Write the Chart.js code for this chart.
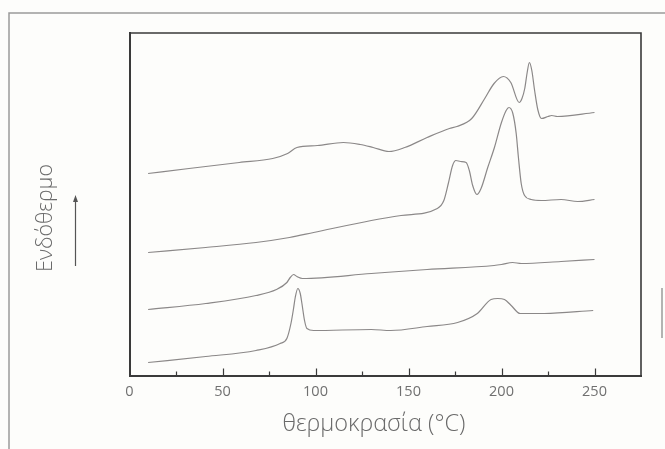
<!DOCTYPE html>
<html>
<head>
<meta charset="utf-8">
<script src="https://cdn.jsdelivr.net/npm/chart.js@4.4.0/dist/chart.umd.min.js"></script>
<style>
  html, body { margin: 0; padding: 0; background: #fdfdfb; }
  #wrap { position: relative; width: 665px; height: 449px; }
  canvas { display: block; }
</style>
</head>
<body>
<div id="wrap"><canvas id="c" width="665" height="449"></canvas></div>
<script>
// ---- Data (y in arbitrary heat-flow units) ----
const xTitle = "θερμοκρασία (°C)";
const yTitle = "Ενδόθερμο";
const xTickValues = [0, 50, 100, 150, 200, 250];

// Curve 1 (top)
const t1 = [10, 32, 59, 77, 85, 90, 101, 115, 124, 131, 139.5, 148, 160, 172, 176, 184, 191, 196, 201, 205, 209.5, 211, 212.5, 213.8, 215, 216.3, 217.8, 219.5, 221.5, 225, 227, 230, 250];
const v1 = [202, 207, 213, 217, 222, 228, 230, 233, 231, 228, 224, 228, 238, 247, 249, 257, 277, 292, 299, 293, 273, 277, 287, 303, 313, 305, 285, 266, 257, 259, 260, 259, 263];

// Curve 2
const t2 = [10, 41, 68, 86, 99, 130, 146, 165.5, 169, 171.4, 173.7, 175.5, 178, 181, 182.7, 184.5, 186.8, 189, 192.6, 196.2, 199.8, 202.5, 204, 206.1, 207.9, 209.1, 210.6, 212.4, 216, 221.4, 232, 241, 250];
const v2 = [123, 128, 133, 138, 143, 155, 160, 167, 175, 192, 210, 215, 214, 213, 205, 190, 181, 187, 208, 228, 252, 265, 268, 262, 242, 218, 192, 180, 176, 175, 176, 174, 176];

// Curve 3
const t3 = [10, 41, 68, 79, 84.6, 86.4, 88.2, 90, 93, 130, 160, 196, 200, 206, 210.6, 232, 250];
const v3 = [66, 72, 80, 86, 93, 98, 101, 99, 97, 102, 106, 110, 111, 113, 112, 114, 116];

// Curve 4 (bottom)
const t4 = [10, 41, 68, 81, 84.6, 86.8, 88.2, 89.1, 90.5, 91.8, 92.7, 94.1, 95.4, 99, 130, 140.4, 160, 176.4, 187, 194.4, 198, 201.6, 205.2, 210, 223, 249.3];
const v4 = [13, 19, 25, 32, 37, 52, 67, 78, 87, 82, 72, 55, 47, 45, 46, 45, 49, 53, 62, 76, 77, 76, 70, 62, 62, 65];

const toPoints = (t, v) => t.map((x, i) => ({ x: x, y: v[i] }));

const lineColor = '#8b8888';
const axisColor = '#3a3a3a';
const textColor = '#6a6a6a';

const mkSet = (label, t, v) => ({
  label: label,
  data: toPoints(t, v),
  borderColor: lineColor,
  borderWidth: 1.2,
  pointRadius: 0,
  fill: false,
  cubicInterpolationMode: 'monotone'
});

const decor = {
  id: 'decor',
  beforeDraw(chart) {
    const ctx = chart.ctx;
    ctx.save();
    ctx.fillStyle = '#fdfdfb';
    ctx.fillRect(0, 0, chart.width, chart.height);
    ctx.strokeStyle = '#9a9a9a';
    ctx.lineWidth = 1.5;
    ctx.beginPath();
    ctx.moveTo(9, 449);
    ctx.lineTo(9, 13);
    ctx.lineTo(665, 13);
    ctx.stroke();
    ctx.beginPath();
    ctx.moveTo(662, 288);
    ctx.lineTo(662, 338);
    ctx.stroke();
    ctx.restore();
  },
  afterDraw(chart) {
    const ctx = chart.ctx;
    const a = chart.chartArea;
    const xs = chart.scales.x;
    ctx.save();
    ctx.strokeStyle = axisColor;
    ctx.lineWidth = 1.6;
    ctx.beginPath();
    ctx.moveTo(a.left, a.top);
    ctx.lineTo(a.right, a.top);
    ctx.lineTo(a.right, a.bottom);
    ctx.stroke();
    ctx.lineWidth = 1.2;
    for (let v = 25; v < xs.max; v += 25) {
      const px = Math.round(xs.getPixelForValue(v)) + 0.5;
      const len = (v % 50 === 0) ? 7 : 4;
      ctx.beginPath();
      ctx.moveTo(px, a.bottom);
      ctx.lineTo(px, a.bottom - len);
      ctx.stroke();
    }
    ctx.fillStyle = textColor;
    ctx.font = "300 23.5px 'Open Sans', 'Noto Sans', sans-serif";
    ctx.textAlign = 'center';
    ctx.textBaseline = 'middle';
    ctx.fillText(xTitle, 374, 424);
    ctx.save();
    ctx.translate(46, 218);
    ctx.rotate(-Math.PI / 2);
    ctx.font = "300 21.5px 'Open Sans', 'Noto Sans', sans-serif";
    ctx.fillText(yTitle, 0, 0);
    ctx.restore();
    ctx.strokeStyle = '#555';
    ctx.fillStyle = '#555';
    ctx.lineWidth = 1.2;
    ctx.beginPath();
    ctx.moveTo(75.5, 266);
    ctx.lineTo(75.5, 200);
    ctx.stroke();
    ctx.beginPath();
    ctx.moveTo(75.5, 195);
    ctx.lineTo(73, 202);
    ctx.lineTo(78, 202);
    ctx.closePath();
    ctx.fill();
    ctx.restore();
  }
};

new Chart(document.getElementById('c'), {
  type: 'line',
  data: {
    datasets: [
      mkSet('1', t1, v1),
      mkSet('2', t2, v2),
      mkSet('3', t3, v3),
      mkSet('4', t4, v4)
    ]
  },
  options: {
    responsive: false,
    animation: false,
    devicePixelRatio: 1,
    layout: { padding: { left: 0, top: 33, right: 24, bottom: 0 } },
    plugins: { legend: { display: false }, tooltip: { enabled: false }, title: { display: false } },
    scales: {
      x: {
        type: 'linear',
        min: 0,
        max: 275,
        afterFit(s) { s.height = 73.5; },
        afterBuildTicks(s) { s.ticks = xTickValues.map(v => ({ value: v })); },
        ticks: {
          color: '#707070',
          padding: 8,
          font: { family: "'Open Sans', 'Noto Sans', sans-serif", size: 14.5, weight: '400' },
          maxRotation: 0,
          autoSkip: false
        },
        grid: { display: false, drawTicks: false },
        border: { display: true, color: axisColor, width: 2 }
      },
      y: {
        type: 'linear',
        min: 0,
        max: 342.5,
        afterFit(s) { s.width = 129.5; },
        ticks: { display: false },
        grid: { display: false, drawTicks: false },
        border: { display: true, color: axisColor, width: 2 }
      }
    }
  },
  plugins: [decor]
});
</script>
</body>
</html>
